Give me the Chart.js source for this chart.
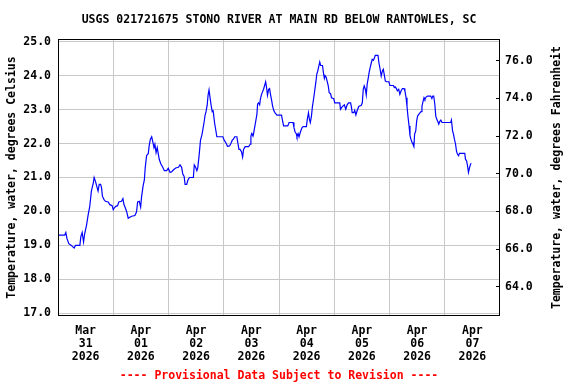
<!DOCTYPE html>
<html>
<head>
<meta charset="utf-8">
<script src="https://cdn.jsdelivr.net/npm/chart.js@4.4.1/dist/chart.umd.min.js"></script>
<style>
    html, body { margin: 0; padding: 0; background: #fff; }
</style>
</head>
<body>
<canvas id="grafTemp" width="576" height="384"></canvas>
<script>
// hours since 2026-03-31 00:00
const horas = [
    0.0, 2.9, 3.4, 3.9, 4.7, 5.8, 7.0, 7.6, 9.5, 9.9, 10.5, 11.1, 11.6, 12.4, 13.1, 13.8, 14.5, 15.3, 15.7, 16.3,
    17.0, 17.4, 17.9, 18.5, 18.9, 19.3, 20.0, 20.6, 21.8, 22.5, 23.5, 24.0, 24.4, 25.1, 25.9, 26.4, 27.6, 28.2, 28.6, 29.1,
    29.8, 30.5, 31.2, 32.0, 33.4, 34.1, 34.6, 35.3, 35.9, 36.3, 37.0, 37.5, 37.9, 38.5, 39.2, 39.6, 40.1, 40.7, 41.1, 41.7,
    42.1, 42.6, 43.1, 43.6, 44.0, 44.7, 45.5, 46.2, 47.2, 47.9, 48.7, 49.4, 50.1, 51.1, 52.3, 53.0, 53.7, 54.2, 54.8, 55.2,
    55.9, 56.4, 57.1, 58.8, 59.2, 59.8, 60.3, 60.7, 61.3, 61.9, 62.5, 62.9, 63.5, 63.9, 64.3, 64.8, 65.2, 65.6, 66.1, 66.5,
    67.0, 67.4, 68.0, 68.6, 69.0, 71.6, 72.2, 73.1, 73.6, 74.5, 75.1, 75.7, 76.2, 76.8, 77.7, 78.1, 78.6, 79.1, 79.7, 80.2,
    80.6, 81.3, 82.8, 83.5, 83.8, 84.2, 84.7, 84.9, 85.4, 85.8, 86.4, 86.7, 87.1, 87.6, 87.9, 88.3, 88.7, 89.3, 89.7, 90.2,
    90.6, 91.0, 91.5, 91.9, 92.3, 92.8, 93.2, 93.7, 94.3, 95.1, 97.1, 97.6, 98.0, 99.8, 100.4, 102.1, 102.5, 103.0, 103.5, 103.8,
    104.3, 104.7, 105.3, 106.0, 106.5, 107.9, 108.3, 108.8, 109.2, 109.6, 110.1, 110.5, 111.1, 111.5, 112.0, 112.4, 112.8, 113.3, 113.7, 114.1,
    114.9, 115.3, 115.7, 116.0, 116.5, 116.9, 117.4, 117.8, 118.4, 118.8, 119.8, 120.2, 122.4, 122.7, 123.4, 124.4, 125.0, 125.6, 126.2, 127.1,
    127.5, 127.8, 128.5, 128.9, 129.4, 130.0, 130.7, 131.7, 132.2, 132.6, 133.0, 133.5, 133.9, 134.3, 134.8, 135.2, 135.6, 136.1, 136.5, 137.0,
    137.4, 137.8, 139.0, 139.4, 139.8, 140.4, 140.9, 141.3, 141.7, 142.2, 142.7, 143.7, 144.2, 145.7, 146.1, 146.5, 147.0, 147.4, 148.0, 148.5,
    149.0, 149.6, 150.3, 150.7, 151.2, 151.6, 152.0, 152.5, 152.9, 153.3, 153.8, 154.2, 154.6, 154.9, 155.4, 155.8, 156.2, 156.7, 157.3, 157.7,
    158.1, 158.6, 159.0, 159.4, 159.9, 160.5, 161.9, 162.4, 162.8, 163.2, 163.7, 164.1, 164.5, 165.0, 165.4, 165.8, 166.3, 166.8, 170.6, 170.9,
    171.4, 171.8, 172.2, 172.7, 173.1, 173.5, 174.0, 174.4, 175.0, 176.7, 177.0, 177.5, 177.9, 178.3, 178.8, 179.2, 179.5
]
const tempC = [
    19.30, 19.30, 19.38, 19.20, 19.05, 19.00, 18.92, 19.00, 19.00, 19.25, 19.38, 19.10, 19.35, 19.60, 19.90, 20.15, 20.60, 20.83, 21.00, 20.88,
    20.70, 20.60, 20.80, 20.80, 20.70, 20.45, 20.35, 20.30, 20.28, 20.20, 20.17, 20.05, 20.10, 20.15, 20.17, 20.28, 20.30, 20.38, 20.22, 20.13,
    20.00, 19.80, 19.83, 19.86, 19.88, 19.98, 20.28, 20.30, 20.13, 20.43, 20.77, 20.92, 21.30, 21.65, 21.70, 21.93, 22.12, 22.20, 22.08, 21.88,
    21.98, 21.73, 21.88, 21.68, 21.53, 21.40, 21.30, 21.20, 21.20, 21.27, 21.15, 21.17, 21.22, 21.28, 21.30, 21.37, 21.30, 21.10, 21.03, 20.80,
    20.80, 20.92, 21.00, 21.00, 21.37, 21.30, 21.20, 21.28, 21.65, 22.10, 22.25, 22.40, 22.65, 22.84, 22.94, 23.13, 23.43, 23.58, 23.33, 23.13,
    22.94, 22.96, 22.62, 22.37, 22.20, 22.20, 22.10, 22.00, 21.92, 21.93, 22.00, 22.10, 22.13, 22.20, 22.20, 22.03, 21.83, 21.83, 21.76, 21.60,
    21.83, 21.91, 21.91, 21.98, 22.22, 22.30, 22.22, 22.27, 22.47, 22.62, 22.86, 23.16, 23.20, 23.14, 23.30, 23.42, 23.50, 23.60, 23.70, 23.82,
    23.65, 23.42, 23.60, 23.62, 23.45, 23.27, 23.11, 22.98, 22.90, 22.84, 22.84, 22.65, 22.52, 22.52, 22.62, 22.62, 22.47, 22.34, 22.29, 22.20,
    22.29, 22.20, 22.34, 22.47, 22.50, 22.50, 22.72, 22.91, 22.72, 22.62, 22.81, 23.08, 23.35, 23.55, 23.80, 24.04, 24.13, 24.28, 24.40, 24.30,
    24.30, 24.08, 23.92, 24.00, 23.95, 23.84, 23.70, 23.50, 23.47, 23.35, 23.32, 23.20, 23.20, 23.01, 23.08, 23.14, 23.01, 23.14, 23.20, 23.20,
    23.06, 22.91, 22.91, 22.98, 22.84, 22.98, 23.10, 23.12, 23.20, 23.60, 23.70, 23.60, 23.43, 23.75, 23.94, 24.11, 24.24, 24.38, 24.48, 24.45,
    24.51, 24.60, 24.60, 24.38, 24.24, 23.99, 24.14, 24.19, 24.04, 23.84, 23.82, 23.82, 23.71, 23.71, 23.65, 23.67, 23.62, 23.55, 23.60, 23.45,
    23.55, 23.62, 23.62, 23.55, 23.35, 23.10, 22.81, 22.52, 22.23, 22.13, 22.03, 21.98, 21.91, 22.27, 22.37, 22.66, 22.81, 22.86, 22.91, 22.94,
    23.10, 23.25, 23.35, 23.30, 23.37, 23.40, 23.40, 23.33, 23.40, 23.40, 23.15, 22.81, 22.72, 22.65, 22.57, 22.65, 22.69, 22.62, 22.62, 22.69,
    22.37, 22.27, 22.13, 21.98, 21.78, 21.69, 21.64, 21.71, 21.71, 21.71, 21.54, 21.49, 21.34, 21.15, 21.30, 21.39, 21.42
]
const etiquetasDias = [
    ['Mar', '31', '2026'], ['Apr', '01', '2026'], ['Apr', '02', '2026'], ['Apr', '03', '2026'],
    ['Apr', '04', '2026'], ['Apr', '05', '2026'], ['Apr', '06', '2026'], ['Apr', '07', '2026']
]
const ticksCelsius = [17, 18, 19, 20, 21, 22, 23, 24, 25]
const ticksFahrenheit = [64, 66, 68, 70, 72, 74, 76]

const minC = 16.92
const maxC = 25.08
const fuente = { family: '"DejaVu Sans Mono"', size: 11.5, weight: 'bold' }

// frame around plot + right axis title (reads bottom-to-top like the left one)
const marcoYTitulo = {
    id: 'marcoYTitulo',
    afterDraw(chart) {
        const ctx = chart.ctx
        const a = chart.chartArea
        ctx.save()
        ctx.strokeStyle = '#000'
        ctx.lineWidth = 1
        ctx.strokeRect(a.left + 0.5, a.top + 0.5, a.right - a.left - 1, a.bottom - a.top - 1)
        ctx.translate(557, (a.top + a.bottom) / 2)
        ctx.rotate(-Math.PI / 2)
        ctx.font = 'bold 11.5px "DejaVu Sans Mono"'
        ctx.fillStyle = '#000'
        ctx.textAlign = 'center'
        ctx.textBaseline = 'middle'
        ctx.fillText('Temperature, water, degrees Fahrenheit', 0, 0)
        ctx.restore()
    }
}

let grafTemp = new Chart(document.getElementById('grafTemp'), {
    type: 'line',
    data: {
        datasets: [{
            data: horas.map((h, i) => ({ x: h, y: tempC[i] })),
            borderColor: '#0000ff',
            borderWidth: 1.2,
            pointRadius: 0,
            tension: 0,
            fill: false
        }]
    },
    options: {
        responsive: false,
        animation: false,
        devicePixelRatio: 1,
        layout: { padding: 0 },
        plugins: {
            legend: { display: false },
            tooltip: { enabled: false },
            title: {
                display: true,
                fullSize: false,
                text: 'USGS 021721675 STONO RIVER AT MAIN RD BELOW RANTOWLES, SC',
                color: '#000',
                font: fuente,
                padding: { top: 13, bottom: 12.2 }
            },
            subtitle: {
                display: true,
                fullSize: false,
                position: 'bottom',
                text: '---- Provisional Data Subject to Revision ----',
                color: '#ff0000',
                font: fuente,
                padding: { top: 3, bottom: 1.2 }
            }
        },
        scales: {
            x: {
                type: 'linear',
                min: 0,
                max: 192,
                afterBuildTicks: eje => {
                    eje.ticks = []
                    for (let h = 0; h <= 192; h += 12) eje.ticks.push({ value: h })
                },
                afterFit: eje => { eje.height = 50 },
                border: { display: false },
                grid: {
                    drawTicks: false,
                    lineWidth: 1,
                    color: c => (c.tick && c.tick.value % 24 === 0 && c.tick.value > 0 && c.tick.value < 192) ? '#c8c8c8' : 'rgba(0,0,0,0)'
                },
                ticks: {
                    autoSkip: false,
                    maxRotation: 0,
                    padding: 8,
                    color: '#000',
                    font: { family: '"DejaVu Sans Mono"', size: 11.5, weight: 'bold', lineHeight: 1.15 },
                    callback: v => (v % 24 === 12) ? etiquetasDias[(v - 12) / 24] : ''
                }
            },
            y: {
                position: 'left',
                min: minC,
                max: maxC,
                afterBuildTicks: eje => { eje.ticks = ticksCelsius.map(v => ({ value: v })) },
                afterFit: eje => { eje.width = 58 },
                border: { display: false },
                grid: { color: '#c8c8c8', lineWidth: 1, drawTicks: false },
                ticks: { padding: 7, color: '#000', font: fuente, callback: v => Number(v).toFixed(1) },
                title: {
                    display: true,
                    text: 'Temperature, water, degrees Celsius',
                    color: '#000',
                    font: fuente,
                    padding: { top: 5, bottom: 0 }
                }
            },
            yF: {
                position: 'right',
                min: minC * 1.8 + 32,
                max: maxC * 1.8 + 32,
                afterBuildTicks: eje => { eje.ticks = ticksFahrenheit.map(v => ({ value: v })) },
                afterFit: eje => { eje.width = 76 },
                border: { display: false },
                grid: { drawOnChartArea: false, drawTicks: true, tickLength: -4, tickColor: '#000', color: '#000' },
                ticks: { padding: 9, color: '#000', font: fuente, callback: v => Number(v).toFixed(1) }
            }
        }
    },
    plugins: [marcoYTitulo]
})
</script>
</body>
</html>
